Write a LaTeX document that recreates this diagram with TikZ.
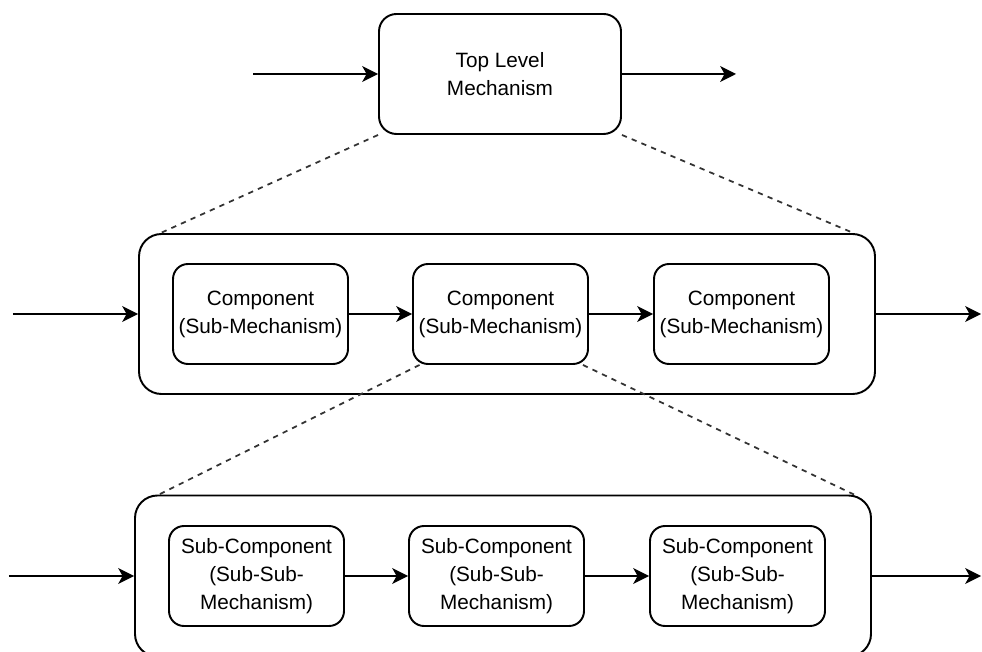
\documentclass[tikz,border=0pt]{standalone}
\usepackage{fontspec}
\setmainfont{Liberation Sans}
\usetikzlibrary{arrows.meta}
\begin{document}
\begin{tikzpicture}[
    box/.style={draw=black, line width=1.1pt, rounded corners=0.3cm, align=center,
      minimum width=3.5cm, minimum height=2cm, inner sep=0pt, font=\fontsize{11.8}{15.9}\selectfont},
    frame/.style={draw=black, line width=1.1pt, rounded corners=0.45cm,
      minimum width=14.72cm, minimum height=3.2cm, inner sep=0pt},
    flow/.style={line width=1.1pt, -{Stealth[length=9pt,width=9pt,inset=2.5pt]}},
    zoomline/.style={line width=1pt, black!80, dash pattern=on 3pt off 3pt}]
  \useasboundingbox (0,0) rectangle (19.64,13.02);
  \node[box, minimum width=4.84cm, minimum height=2.4cm, rounded corners=0.35cm] (top) at (10,11.54) {Top Level\\Mechanism};
  \coordinate (topin) at (5.06,11.54);
  \coordinate (topout) at (14.72,11.54);
  \draw[flow] (topin) -- (top);
  \draw[flow] (top) -- (topout);

  \node[frame] (mid) at (10.14,6.74) {};
  \node[box] (c1) at (5.21,6.74) {Component\\(Sub-Mechanism)};
  \node[box] (c2) at (10.01,6.74) {Component\\(Sub-Mechanism)};
  \node[box] (c3) at (14.83,6.74) {Component\\(Sub-Mechanism)};
  \coordinate (midin) at (0.26,6.74);
  \coordinate (midout) at (19.62,6.74);
  \draw[flow] (midin) -- (mid);
  \draw[flow] (c1) -- (c2);
  \draw[flow] (c2) -- (c3);
  \draw[flow] (mid) -- (midout);

  \node[frame, minimum height=3.22cm] (bot) at (10.06,1.50) {};
  \node[box] (s1) at (5.13,1.50) {Sub-Component\\(Sub-Sub-\\Mechanism)};
  \node[box] (s2) at (9.93,1.50) {Sub-Component\\(Sub-Sub-\\Mechanism)};
  \node[box] (s3) at (14.75,1.50) {Sub-Component\\(Sub-Sub-\\Mechanism)};
  \coordinate (botin) at (0.18,1.50);
  \coordinate (botout) at (19.62,1.50);
  \draw[flow] (botin) -- (bot);
  \draw[flow] (s1) -- (s2);
  \draw[flow] (s2) -- (s3);
  \draw[flow] (bot) -- (botout);

  \draw[zoomline] (top.south west) -- ([xshift=0.45cm]mid.north west);
  \draw[zoomline] (top.south east) -- ([xshift=-0.45cm]mid.north east);
  \draw[zoomline] ([xshift=0.15cm]c2.south west) -- ([xshift=0.5cm]bot.north west);
  \draw[zoomline] ([xshift=-0.12cm]c2.south east) -- ([xshift=-0.36cm]bot.north east);
\end{tikzpicture}
\end{document}
